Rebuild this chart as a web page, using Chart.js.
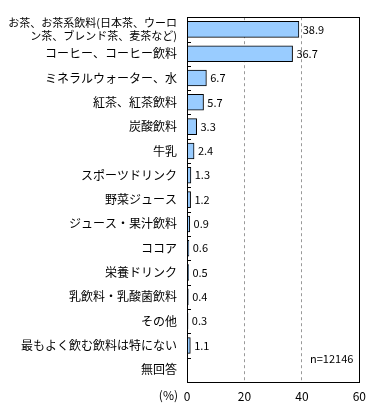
<!DOCTYPE html>
<html>
<head>
<meta charset="utf-8">
<script src="https://cdn.jsdelivr.net/npm/chart.js@4"></script>
<style>
  body { margin: 0; background: #fff; }
</style>
</head>
<body>
<canvas id="grafico" width="373" height="410"></canvas>
<script>
const categories = [
  ['お茶、お茶系飲料(日本茶、ウーロ', 'ン茶、ブレンド茶、麦茶など)'],
  'コーヒー、コーヒー飲料',
  'ミネラルウォーター、水',
  '紅茶、紅茶飲料',
  '炭酸飲料',
  '牛乳',
  'スポーツドリンク',
  '野菜ジュース',
  'ジュース・果汁飲料',
  'ココア',
  '栄養ドリンク',
  '乳飲料・乳酸菌飲料',
  'その他',
  '最もよく飲む飲料は特にない',
  '無回答'
];
const values = [38.9, 36.7, 6.7, 5.7, 3.3, 2.4, 1.3, 1.2, 0.9, 0.6, 0.5, 0.4, 0.3, 1.1, null];
const xTicks = [0, 20, 40, 60];
const sampleNote = 'n=12146';
const unitLabel = '(%)';

const font = '"Noto Sans CJK JP", "Noto Sans", sans-serif';

const extras = {
  id: 'extras',
  afterDatasetsDraw(chart) {
    const {ctx, chartArea: a, scales: {x, y}} = chart;
    ctx.save();
    // etiquetas de valor
    ctx.font = '11px ' + font;
    ctx.fillStyle = '#000';
    ctx.textBaseline = 'middle';
    ctx.textAlign = 'left';
    chart.getDatasetMeta(0).data.forEach((bar, i) => {
      if (values[i] === null) return;
      ctx.fillText(values[i].toFixed(1), bar.x + 4, bar.y);
    });
    // marcas entre categorias, hacia dentro
    ctx.strokeStyle = '#000';
    ctx.lineWidth = 1;
    for (let i = 0; i < categories.length - 1; i++) {
      const yy = Math.round((y.getPixelForValue(i) + y.getPixelForValue(i + 1)) / 2) + 0.5;
      ctx.beginPath();
      ctx.moveTo(a.left, yy);
      ctx.lineTo(a.left + 4, yy);
      ctx.stroke();
    }
    // marco
    ctx.strokeRect(Math.round(a.left) + 0.5, Math.round(a.top) + 0.5,
      Math.round(a.right - a.left), Math.round(a.bottom - a.top));
    ctx.textAlign = 'right';
    const lastGap = (y.getPixelForValue(categories.length - 2) + y.getPixelForValue(categories.length - 1)) / 2;
    ctx.fillText(sampleNote, a.right - 6, lastGap + 1);
    ctx.font = '12px ' + font;
    ctx.fillText(unitLabel, a.left - 9, a.bottom + 13);
    ctx.restore();
  }
};

new Chart(document.getElementById('grafico').getContext('2d'), {
  type: 'bar',
  data: {
    labels: categories,
    datasets: [{
      data: values,
      backgroundColor: '#99ccff',
      borderColor: '#000',
      borderWidth: 1,
      inflateAmount: 0.5,
      barPercentage: 0.64,
      categoryPercentage: 1
    }]
  },
  options: {
    indexAxis: 'y',
    responsive: false,
    animation: false,
    layout: { padding: { top: 7, right: 11, left: 0, bottom: 0 } },
    plugins: {
      legend: { display: false },
      tooltip: { enabled: false }
    },
    scales: {
      x: {
        min: 0,
        max: 60,
        afterBuildTicks: s => { s.ticks = xTicks.map(v => ({value: v})); },
        afterFit: s => { s.height = 28; },
        border: { display: false, dash: [3, 3] },
        grid: {
          drawTicks: false,
          color: c => (c.tick && (c.tick.value === 20 || c.tick.value === 40)) ? '#999' : 'rgba(0,0,0,0)'
        },
        ticks: {
          color: '#000',
          padding: 7,
          font: { family: font, size: 12 }
        }
      },
      y: {
        afterFit: s => { s.width = 187; },
        border: { display: false },
        grid: { display: false, drawTicks: false },
        ticks: {
          color: '#000',
          padding: 10,
          autoSkip: false,
          font: c => ({ family: font, size: c.index === 0 ? 11 : 12 })
        }
      }
    }
  },
  plugins: [extras]
});
</script>
</body>
</html>
